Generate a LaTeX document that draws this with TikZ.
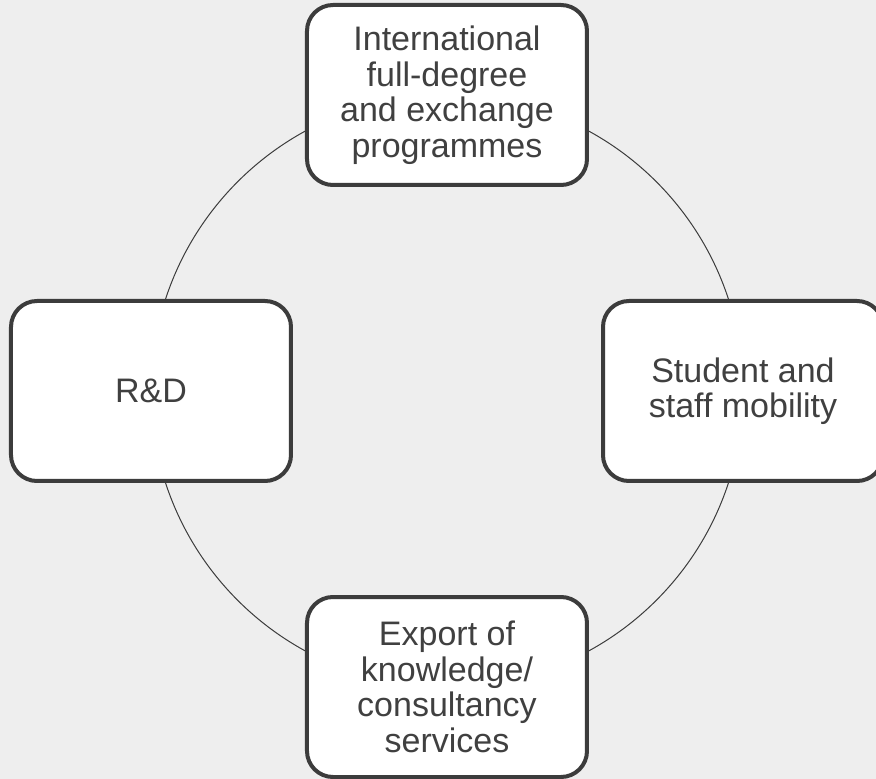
\documentclass[tikz,border=0pt]{standalone}
\usepackage{fontspec}
\setmainfont{Liberation Sans}
\usetikzlibrary{positioning}
\definecolor{paper}{HTML}{EEEEEE}
\definecolor{ink}{HTML}{3C3C3C}
\definecolor{textgray}{HTML}{404040}
\tikzstyle{block} = [rectangle, draw=ink, line width=4pt, fill=white,
  text=textgray, minimum width=280pt, minimum height=180pt,
  rounded corners=26pt, align=center, font=\fontsize{34}{35.5}\selectfont]
\tikzstyle{ring} = [draw=ink, line width=1pt]
\begin{document}
\begin{tikzpicture}[node distance=296pt, auto]
    % background and page size
    \fill [paper] (-447pt,391pt) rectangle (429pt,-388pt);
    \useasboundingbox (-447pt,391pt) rectangle (429pt,-388pt);

    \coordinate (hub) at (0,0);
    \draw [ring] (hub) circle (296pt);

    \node [block, above of=hub] (intl) {International\\full-degree\\and exchange\\programmes};
    \node [block, left of=hub] (rnd) {R\&D};
    \node [block, right of=hub] (mobility) {Student and\\staff mobility};
    \node [block, below of=hub] (export) {Export of\\knowledge/\\consultancy\\services};
\end{tikzpicture}
\end{document}
